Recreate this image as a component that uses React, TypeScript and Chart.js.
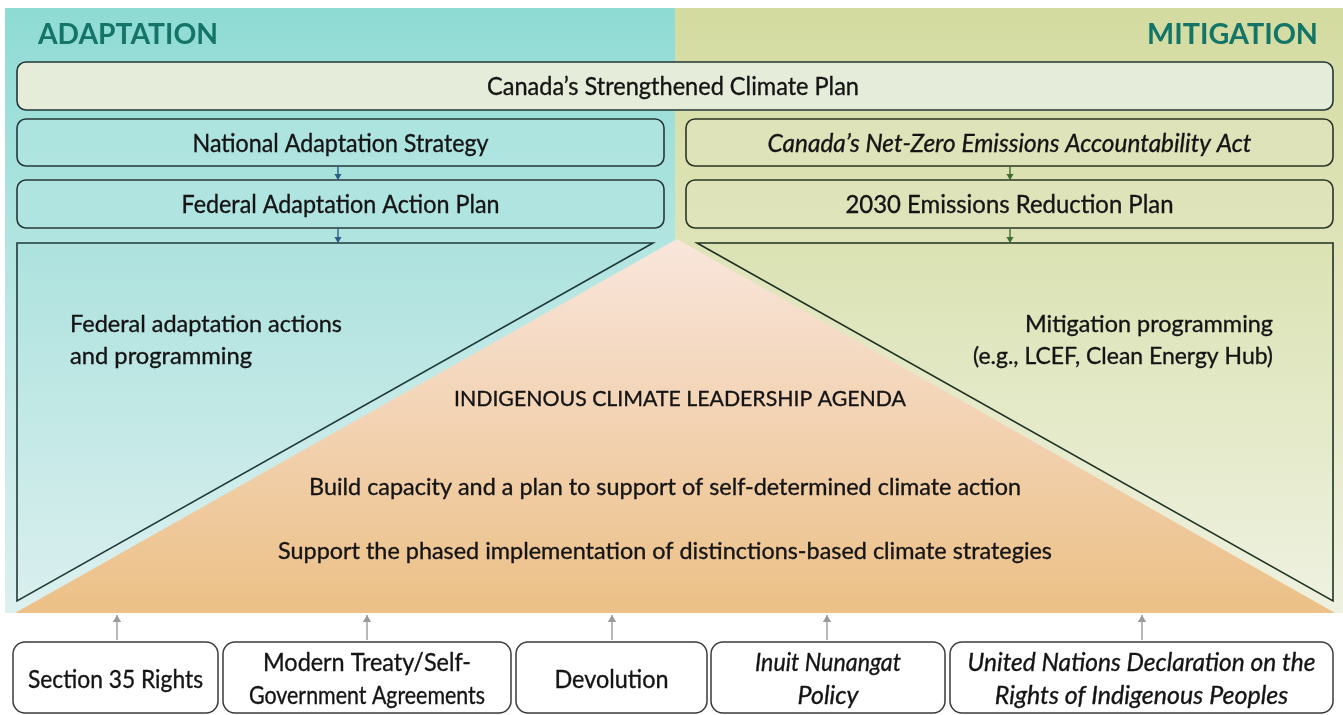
import React, { useEffect, useRef } from "react";
import { Chart, registerables } from "chart.js";

Chart.register(...registerables);

// ---------- content ----------
const sectionTitles = ["ADAPTATION", "MITIGATION"];
const planTitle = "Canada’s Strengthened Climate Plan";
const adaptationSteps = ["National Adaptation Strategy", "Federal Adaptation Action Plan"];
const mitigationSteps = ["Canada’s Net-Zero Emissions Accountability Act", "2030 Emissions Reduction Plan"];
const mitigationItalic = [true, false];
const adaptationProgram = ["Federal adaptation actions", "and programming"];
const mitigationProgram = ["Mitigation programming", "(e.g., LCEF, Clean Energy Hub)"];
const agendaTitle = "INDIGENOUS CLIMATE LEADERSHIP AGENDA";
const agendaItems = [
  "Build capacity and a plan to support of self-determined climate action",
  "Support the phased implementation of distinctions-based climate strategies",
];
const foundations = [
  ["Section 35 Rights"],
  ["Modern Treaty/Self-", "Government Agreements"],
  ["Devolution"],
  ["Inuit Nunangat", "Policy"],
  ["United Nations Declaration on the", "Rights of Indigenous Peoples"],
];
const foundationItalic = [false, false, false, true, true];

// ---------- layout (diagram units = scale values) ----------
const W = 1343;
const H = 715;
const FONT = "Lato, 'Noto Sans', sans-serif";
const panel = { l: 5, t: 8, r: 1343, b: 613, mid: 675 };
const topBox = { l: 17, t: 62, r: 1333, b: 110 };
const stepRows = [
  { t: 119, b: 166 },
  { t: 180, b: 228 },
];
const leftCol = { l: 17, r: 664 };
const rightCol = { l: 686, r: 1333 };
const triTop = 243;
const triBottom = 601;
const leftTri = { l: 17, r: 653 };
const rightTri = { l: 697, r: 1333 };
const apex = { x: 677, y: 239 };
const orangeBase = { l: 17, r: 1333 };
const footBoxes = [
  { l: 13, r: 218 },
  { l: 223, r: 511 },
  { l: 516, r: 707 },
  { l: 711, r: 945 },
  { l: 950, r: 1333 },
];
const footArrowX = [117, 367, 612, 827, 1142];
const footTop = 642;
const footBottom = 713;

function App() {
  const ref = useRef<HTMLCanvasElement | null>(null);

  useEffect(() => {
    if (!ref.current) return;

    const diagramPlugin = {
      id: "diagram",
      beforeDatasetsDraw(chart: any) {
        const ctx: CanvasRenderingContext2D = chart.ctx;
        const xs = chart.scales.x;
        const ys = chart.scales.y;
        const X = (v: number) => xs.getPixelForValue(v);
        const Y = (v: number) => ys.getPixelForValue(v);

        const vgrad = (t: number, b: number, stops: [number, string][]) => {
          const g = ctx.createLinearGradient(0, Y(t), 0, Y(b));
          stops.forEach(([o, c]) => g.addColorStop(o, c));
          return g;
        };

        const poly = (pts: [number, number][]) => {
          ctx.beginPath();
          pts.forEach(([x, y], i) => (i ? ctx.lineTo(X(x), Y(y)) : ctx.moveTo(X(x), Y(y))));
          ctx.closePath();
        };

        const rbox = (l: number, t: number, r: number, b: number, rad: number, fill: any, stroke: string, lw: number) => {
          ctx.beginPath();
          ctx.roundRect(X(l), Y(t), X(r) - X(l), Y(b) - Y(t), rad);
          ctx.fillStyle = fill;
          ctx.fill();
          ctx.lineWidth = lw;
          ctx.strokeStyle = stroke;
          ctx.stroke();
        };

        const text = (
          s: string,
          x: number,
          y: number,
          size: number,
          opts: { align?: CanvasTextAlign; italic?: boolean; bold?: boolean; color?: string; maxW?: number } = {}
        ) => {
          const color = opts.color || "#141414";
          ctx.font = `${opts.italic ? "italic " : ""}${opts.bold ? "bold " : ""}${size}px ${FONT}`;
          ctx.fillStyle = color;
          ctx.textAlign = opts.align || "center";
          ctx.textBaseline = "middle";
          ctx.fillText(s, X(x), Y(y), opts.maxW);
          if (!opts.bold) {
            ctx.strokeStyle = color;
            ctx.lineWidth = 0.35;
            ctx.strokeText(s, X(x), Y(y), opts.maxW);
          }
        };

        const arrow = (x: number, y0: number, y1: number, color: string, lw: number, head: number) => {
          ctx.strokeStyle = color;
          ctx.fillStyle = color;
          ctx.lineWidth = lw;
          ctx.beginPath();
          ctx.moveTo(X(x), Y(y0));
          ctx.lineTo(X(x), Y(y1));
          ctx.stroke();
          const dir = y1 > y0 ? 1 : -1;
          ctx.beginPath();
          ctx.moveTo(X(x), Y(y1));
          ctx.lineTo(X(x) - head * 0.6, Y(y1) - dir * head);
          ctx.lineTo(X(x) + head * 0.6, Y(y1) - dir * head);
          ctx.closePath();
          ctx.fill();
        };

        ctx.save();
        ctx.fillStyle = "#ffffff";
        ctx.fillRect(0, 0, chart.width, chart.height);

        // panels
        ctx.fillStyle = vgrad(panel.t, panel.b, [
          [0, "#8edbd4"],
          [0.4, "#b3e5e1"],
          [1, "#dcf0ef"],
        ]);
        ctx.fillRect(X(panel.l), Y(panel.t), X(panel.mid) - X(panel.l), Y(panel.b) - Y(panel.t));
        ctx.fillStyle = vgrad(panel.t, panel.b, [
          [0, "#d3dba0"],
          [0.4, "#dfe4b9"],
          [1, "#eef1df"],
        ]);
        ctx.fillRect(X(panel.mid), Y(panel.t), X(panel.r) - X(panel.mid), Y(panel.b) - Y(panel.t));

        // orange pyramid
        poly([
          [apex.x, apex.y],
          [orangeBase.r + 2, panel.b],
          [orangeBase.l - 2, panel.b],
        ]);
        ctx.fillStyle = vgrad(apex.y, panel.b, [
          [0, "#f9e6dc"],
          [0.45, "#f3d4b6"],
          [1, "#ecc086"],
        ]);
        ctx.fill();

        // left triangle
        poly([
          [leftTri.l, triTop],
          [leftTri.r, triTop],
          [leftTri.l, triBottom],
        ]);
        ctx.fillStyle = vgrad(triTop, triBottom, [
          [0, "#ade2de"],
          [1, "#d9efee"],
        ]);
        ctx.fill();
        ctx.strokeStyle = "#1f3a3a";
        ctx.lineWidth = 1.6;
        ctx.stroke();

        // right triangle
        poly([
          [rightTri.l, triTop],
          [rightTri.r, triTop],
          [rightTri.r, triBottom],
        ]);
        ctx.fillStyle = vgrad(triTop, triBottom, [
          [0, "#dbe2b3"],
          [1, "#eef1df"],
        ]);
        ctx.fill();
        ctx.strokeStyle = "#1f3325";
        ctx.stroke();

        // top plan box
        rbox(topBox.l, topBox.t, topBox.r, topBox.b, 9, "#e5ecd9", "#253535", 1.6);
        text(planTitle, (topBox.l + topBox.r) / 2 - 2, 87, 25, { maxW: 372 });

        // step boxes
        stepRows.forEach((row, i) => {
          rbox(leftCol.l, row.t, leftCol.r, row.b, 9, "rgba(176,228,224,0.85)", "#253838", 1.6);
          rbox(rightCol.l, row.t, rightCol.r, row.b, 9, "rgba(223,227,186,0.9)", "#2c3525", 1.6);
          text(adaptationSteps[i], (leftCol.l + leftCol.r) / 2, (row.t + row.b) / 2 + 1, 25, {
            maxW: i === 0 ? 296 : 318,
          });
          text(mitigationSteps[i], (rightCol.l + rightCol.r) / 2, (row.t + row.b) / 2 + 1, 25, {
            italic: mitigationItalic[i],
            maxW: i === 0 ? 484 : 328,
          });
        });

        // step arrows
        const la = 338;
        const ra = 1010;
        arrow(la, stepRows[0].b, stepRows[1].t, "#2f5f88", 1.4, 6);
        arrow(la, stepRows[1].b, triTop, "#2f5f88", 1.4, 6);
        arrow(ra, stepRows[0].b, stepRows[1].t, "#3f6b35", 1.4, 6);
        arrow(ra, stepRows[1].b, triTop, "#3f6b35", 1.4, 6);

        // section titles
        text(sectionTitles[0], 38, 35, 29, { align: "left", bold: true, color: "#137467", maxW: 180 });
        text(sectionTitles[1], 1318, 35, 29, { align: "right", bold: true, color: "#137467", maxW: 171 });

        // programming texts
        text(adaptationProgram[0], 70, 324, 24, { align: "left", maxW: 272 });
        text(adaptationProgram[1], 70, 356, 24, { align: "left", maxW: 182 });
        text(mitigationProgram[0], 1273, 324, 24, { align: "right", maxW: 248 });
        text(mitigationProgram[1], 1273, 356, 24, { align: "right", maxW: 300 });

        // agenda
        text(agendaTitle, 680, 399, 22, { maxW: 452 });
        text(agendaItems[0], 665, 487, 24, { maxW: 712 });
        text(agendaItems[1], 665, 551, 24, { maxW: 774 });

        // foundation arrows + boxes
        footArrowX.forEach((x) => arrow(x, footTop - 2, panel.b + 2, "#9b9b9b", 1.4, 7));
        const footWidths = [
          [175],
          [208, 236],
          [114],
          [146, 74],
          [348, 320],
        ];
        foundations.forEach((lines, i) => {
          const b = footBoxes[i];
          rbox(b.l, footTop, b.r, footBottom, 12, "#ffffff", "#3a3a3a", 1.5);
          const cx = (b.l + b.r) / 2;
          const cy = (footTop + footBottom) / 2;
          if (lines.length === 1) {
            text(lines[0], cx, cy + 2, 25, { italic: foundationItalic[i], maxW: footWidths[i][0] });
          } else {
            text(lines[0], cx, cy - 15, 25, { italic: foundationItalic[i], maxW: footWidths[i][0] });
            text(lines[1], cx, cy + 18, 25, { italic: foundationItalic[i], maxW: footWidths[i][1] });
          }
        });

        ctx.restore();
      },
    };

    const chart = new Chart(ref.current, {
      type: "scatter",
      data: { datasets: [{ data: [], pointRadius: 0 }] },
      options: {
        animation: false,
        responsive: false,
        maintainAspectRatio: false,
        events: [],
        layout: { padding: 0 },
        scales: {
          x: { type: "linear", min: 0, max: W, display: false },
          y: { type: "linear", min: 0, max: H, reverse: true, display: false },
        },
        plugins: { legend: { display: false }, tooltip: { enabled: false } },
      },
      plugins: [diagramPlugin],
    });
    return () => chart.destroy();
  }, []);

  return (
    <div style={{ position: "absolute", left: 0, top: 0, width: W, height: H, background: "#fff" }}>
      <canvas ref={ref} width={W} height={H} style={{ display: "block" }} />
    </div>
  );
}

export default App;
